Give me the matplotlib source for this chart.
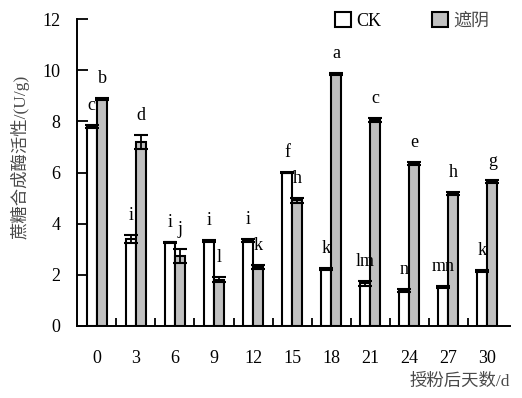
import matplotlib
matplotlib.use("Agg")
import matplotlib.pyplot as plt
import numpy as np

plt.rcParams['font.family'] = ['Liberation Serif', 'Noto Sans CJK SC']

# 授粉后天数与蔗糖合成酶活性
days = ['0', '3', '6', '9', '12', '15', '18', '21', '24', '27', '30']
ck = [7.8, 3.4, 3.27, 3.32, 3.35, 6.0, 2.23, 1.67, 1.37, 1.53, 2.15]
ck_err = [0.05, 0.15, 0.03, 0.03, 0.07, 0.03, 0.05, 0.1, 0.06, 0.03, 0.03]
shade = [8.87, 7.19, 2.73, 1.8, 2.3, 4.92, 9.85, 8.05, 6.36, 5.18, 5.64]
shade_err = [0.05, 0.27, 0.28, 0.1, 0.08, 0.1, 0.05, 0.08, 0.07, 0.05, 0.05]
ck_letters = ['c', 'i', 'i', 'i', 'i', 'f', 'k', 'lm', 'n', 'mn', 'k']
shade_letters = ['b', 'd', 'j', 'l', 'k', 'h', 'a', 'c', 'e', 'h', 'g']

cn_color = '#4a4a4a'

fig = plt.figure(figsize=(5.22, 3.98), dpi=100)
ax = fig.add_axes([0.1475, 0.181, 0.83, 0.771])

x = np.arange(len(days))
w = 0.26
ax.bar(x - w / 2, ck, w, color='white', edgecolor='black', linewidth=1.5, label='CK', zorder=2)
ax.bar(x + w / 2, shade, w, color='#c0c0c0', edgecolor='black', linewidth=1.5, label='遮阴', zorder=2)
ax.errorbar(x - w / 2, ck, yerr=ck_err, fmt='none', ecolor='black', elinewidth=1.3,
            capsize=5, capthick=1.5, zorder=3)
ax.errorbar(x + w / 2, shade, yerr=shade_err, fmt='none', ecolor='black', elinewidth=1.3,
            capsize=5, capthick=1.5, zorder=3)

for i in range(len(days)):
    ax.annotate(ck_letters[i], (x[i] - w / 2, ck[i] + ck_err[i]), xytext=(0, 14),
                textcoords='offset points', ha='center', va='center', fontsize=13)
    ax.annotate(shade_letters[i], (x[i] + w / 2, shade[i] + shade_err[i]), xytext=(0, 14),
                textcoords='offset points', ha='center', va='center', fontsize=13)

ax.set_xlim(-0.51, 10.59)
ax.set_ylim(0, 12)
ax.set_yticks(range(0, 13, 2))
ax.set_xticks(x)
ax.set_xticklabels(days)
ax.set_xticks(x[:-1] + 0.5, minor=True)
ax.tick_params(axis='x', which='major', length=0, pad=17, labelsize=13)
ax.tick_params(axis='x', which='minor', direction='in', length=6, width=1.3)
ax.tick_params(axis='y', direction='in', length=8, width=1.3, pad=12, labelsize=13)
for s in ['top', 'right']:
    ax.spines[s].set_visible(False)
for s in ['left', 'bottom']:
    ax.spines[s].set_linewidth(1.4)

ax.set_ylabel('蔗糖合成酶活性/(U/g)', fontsize=12.5, color=cn_color)
ax.yaxis.set_label_coords(-0.11, 0.55)
ax.set_xlabel('授粉后天数/d', fontsize=12.5, color=cn_color, loc='right', labelpad=5)

leg = ax.legend(loc='upper right', bbox_to_anchor=(0.99, 1.075), ncol=2, frameon=False,
                fontsize=13, handlelength=0.9, handleheight=0.9, handletextpad=0.3,
                columnspacing=2.8)
for t in leg.get_texts():
    if t.get_text() != 'CK':
        t.set_color(cn_color)

fig.savefig('out.png', dpi=100)
